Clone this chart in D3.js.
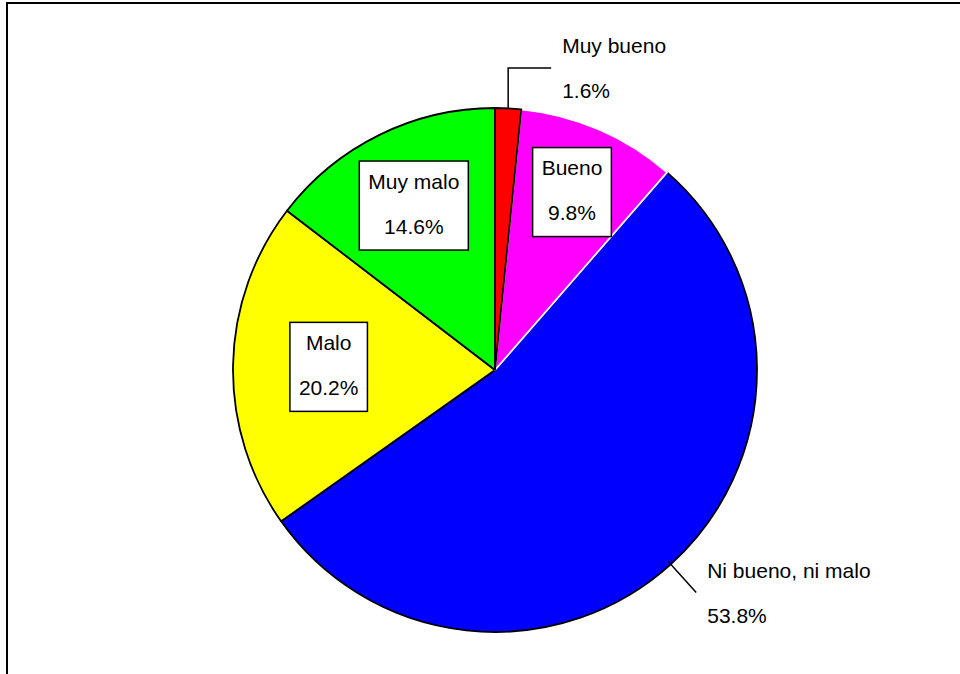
<!DOCTYPE html>
<html>
<head>
<meta charset="utf-8">
<script src="https://cdn.jsdelivr.net/npm/d3@7"></script>
<style>
  html, body { margin: 0; padding: 0; background: #fff; }
  svg { display: block; }
  text { font-family: "Liberation Sans", Arial, sans-serif; font-size: 21px; fill: #000; }
</style>
</head>
<body>
<svg id="chart" width="960" height="674"></svg>
<script>
// ---- data ----
const categories = ["Muy bueno", "Bueno", "Ni bueno, ni malo", "Malo", "Muy malo"];
const values = [1.6, 9.8, 53.8, 20.2, 14.6];
const valueLabels = ["1.6%", "9.8%", "53.8%", "20.2%", "14.6%"];
const colors = ["#FF0000", "#FF00FF", "#0000FF", "#FFFF00", "#00FF00"];

// ---- layout ----
const W = 960, H = 674;
const cx = 495, cy = 370, R = 262;
// label placement style per slice: "outTop" (elbow), "out" (radial), or inner box radius factor
const labelMode = ["outTop", "box", "out", "box", "box"];
const boxRadius = [0, 0.74, 0, 0.635, 0.70];
const strokeCol = ["#000", "#fff", "#000", "#000", "#000"];
const drawOrder = [2, 3, 4, 1, 0];

const svg = d3.select("#chart");

// outer frame
svg.append("rect")
  .attr("x", 7).attr("y", 3)
  .attr("width", W + 20).attr("height", H + 20)
  .attr("fill", "none").attr("stroke", "#000").attr("stroke-width", 2);

const pie = d3.pie().sort(null).value(d => d)(values);
const arc = d3.arc().innerRadius(0).outerRadius(R);

const g = svg.append("g").attr("transform", `translate(${cx},${cy})`);

g.selectAll("path.slice")
  .data(drawOrder.map(i => pie[i]))
  .enter().append("path")
  .attr("class", "slice")
  .attr("d", arc)
  .attr("fill", d => colors[d.index])
  .attr("stroke", d => strokeCol[d.index])
  .attr("stroke-width", 1.8)
  .attr("stroke-linejoin", "round");

const lineH = 45;

pie.forEach((d, i) => {
  const mid = (d.startAngle + d.endAngle) / 2;
  const sx = Math.sin(mid), sy = -Math.cos(mid);
  if (labelMode[i] === "box") {
    const rr = R * boxRadius[i];
    const bx = sx * rr, by = sy * rr;
    const lg = g.append("g");
    const t1 = lg.append("text").attr("x", bx).attr("y", by - 17)
      .attr("text-anchor", "middle").text(categories[i]);
    const t2 = lg.append("text").attr("x", bx).attr("y", by + 28)
      .attr("text-anchor", "middle").text(valueLabels[i]);
    const w = Math.max(t1.node().getComputedTextLength(), t2.node().getComputedTextLength());
    const bw = w + 18, bh = 89;
    lg.insert("rect", "text")
      .attr("x", bx - bw / 2).attr("y", by - bh / 2)
      .attr("width", bw).attr("height", bh)
      .attr("fill", "#fff").attr("stroke", "#000").attr("stroke-width", 1.5);
  } else if (labelMode[i] === "outTop") {
    const x0 = sx * R, y0 = sy * R;
    const yTop = -(R + 40);
    const x1 = x0 + 43;
    g.append("path")
      .attr("d", `M${x0},${y0 + 1}L${x0},${yTop}L${x1},${yTop}`)
      .attr("fill", "none").attr("stroke", "#000").attr("stroke-width", 1.5);
    g.append("text").attr("x", x1 + 11).attr("y", yTop - 15).text(categories[i]);
    g.append("text").attr("x", x1 + 11).attr("y", yTop + 30).text(valueLabels[i]);
  } else {
    const r0 = R - 4, r1 = R + 38;
    const x1 = sx * r1, y1 = sy * r1;
    g.append("line")
      .attr("x1", sx * r0).attr("y1", sy * r0)
      .attr("x2", x1).attr("y2", y1)
      .attr("stroke", "#000").attr("stroke-width", 1.5);
    g.append("text").attr("x", x1 + 11).attr("y", y1 - 15).text(categories[i]);
    g.append("text").attr("x", x1 + 11).attr("y", y1 + 30).text(valueLabels[i]);
  }
});
</script>
</body>
</html>
